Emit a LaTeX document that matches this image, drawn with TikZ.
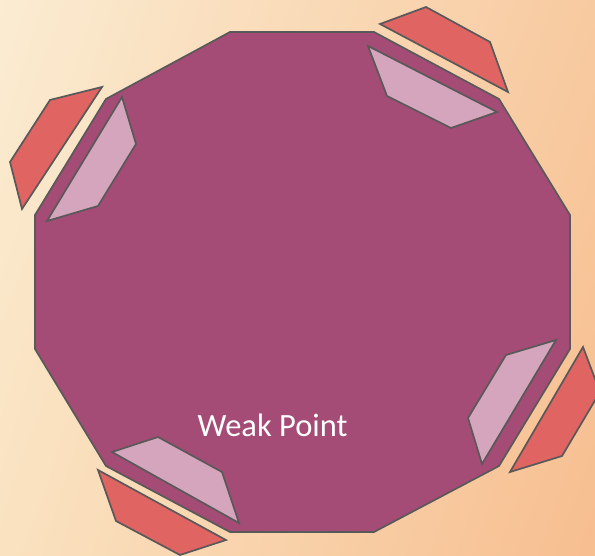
\documentclass[tikz,border=0pt]{standalone}
\usepackage{fontspec}
\setmainfont{Carlito}
\usetikzlibrary{shadings}
\definecolor{wallfill}{RGB}{164,76,118}
\definecolor{innerfill}{RGB}{213,165,190}
\definecolor{outerfill}{RGB}{224,100,98}
\definecolor{edgegray}{RGB}{89,89,89}
\definecolor{bgtl}{RGB}{251,236,210}
\definecolor{bgtr}{RGB}{248,202,160}
\definecolor{bgbl}{RGB}{250,226,192}
\definecolor{bgbr}{RGB}{247,190,144}
\begin{document}
\begin{tikzpicture}[x=1pt,y=-1pt,
    wall/.style={fill=wallfill, draw=edgegray, line width=1.7pt, line join=miter},
    innerpart/.style={fill=innerfill, draw=edgegray, line width=1.7pt},
    outerpart/.style={fill=outerfill, draw=edgegray, line width=1.7pt},
    label/.style={text=white, font=\fontsize{32.5}{38}\selectfont}
  ]
    \useasboundingbox (0,0) rectangle (595,556);
    \shade[upper left=bgtl, upper right=bgtr, lower left=bgbl, lower right=bgbr]
      (0,0) rectangle (595,556);
    \clip (0,0) rectangle (595,556);
    \draw[wall] (230,32) -- (374,32) -- (499,99) -- (570,215) -- (570,349)
      -- (499,466) -- (374,532) -- (230,532) -- (106,466) -- (35,349)
      -- (35,215) -- (106,99) -- cycle;
    \draw[innerpart] (122,97) -- (136,144) -- (98,206) -- (47,221) -- cycle;
    \draw[innerpart] (368,46) -- (387,96) -- (451,128) -- (497,112) -- cycle;
    \draw[innerpart] (112,452) -- (158,437) -- (222,472) -- (239,523) -- cycle;
    \draw[innerpart] (556,340) -- (506,355) -- (468,418) -- (482,464) -- cycle;
    \draw[outerpart] (102,87) -- (50,100) -- (10,162) -- (22,209) -- cycle;
    \draw[outerpart] (380,24) -- (426,7) -- (490,42) -- (508,92) -- cycle;
    \draw[outerpart] (98,470) -- (116,521) -- (180,555) -- (226,540) -- cycle;
    \draw[outerpart] (583,347) -- (600,392) -- (562,456) -- (510,472) -- cycle;
    \node[label] (weak) at (272.5,425) {Weak Point};
\end{tikzpicture}
\end{document}
